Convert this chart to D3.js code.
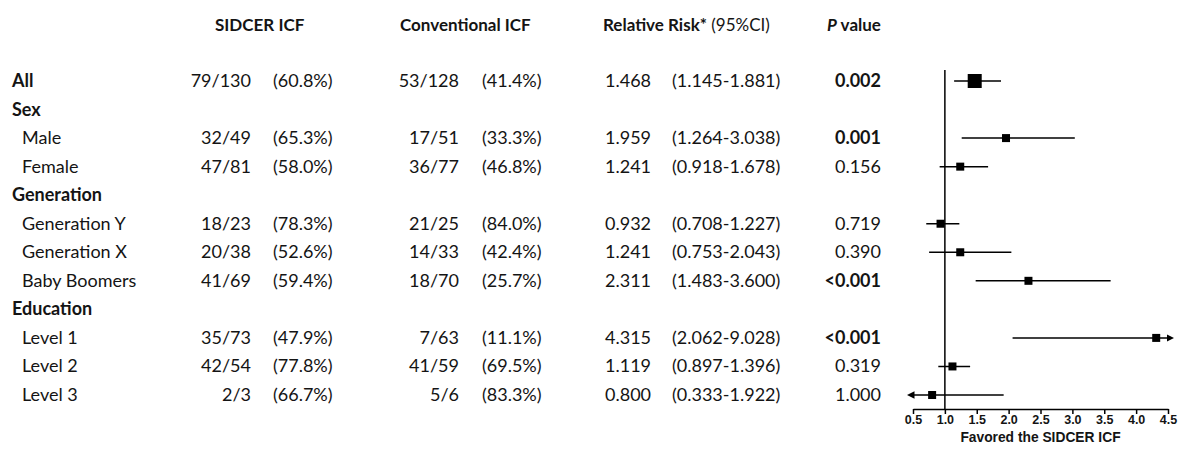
<!DOCTYPE html>
<html>
<head>
<meta charset="utf-8">
<script src="https://cdnjs.cloudflare.com/ajax/libs/d3/7.8.5/d3.min.js"></script>
<style>
    body { margin: 0; background: #fff; }
    svg text { font-family: Lato, "Open Sans", sans-serif; fill: #141414; }
    .axis text { font-family: "Liberation Sans", Arial, sans-serif; font-weight: bold; font-size: 12.5px; }
</style>
</head>
<body>
<svg id="chart" width="1181" height="450"></svg>
<script>
    const labels = ["All", "Sex", "Male", "Female", "Generation", "Generation Y", "Generation X", "Baby Boomers",
                    "Education", "Level 1", "Level 2", "Level 3"];
    const isGroup = [true, true, false, false, true, false, false, false, true, false, false, false];
    const sidcerCount = ["79/130", "", "32/49", "47/81", "", "18/23", "20/38", "41/69", "", "35/73", "42/54", "2/3"];
    const sidcerPct = ["(60.8%)", "", "(65.3%)", "(58.0%)", "", "(78.3%)", "(52.6%)", "(59.4%)", "", "(47.9%)", "(77.8%)", "(66.7%)"];
    const convCount = ["53/128", "", "17/51", "36/77", "", "21/25", "14/33", "18/70", "", "7/63", "41/59", "5/6"];
    const convPct = ["(41.4%)", "", "(33.3%)", "(46.8%)", "", "(84.0%)", "(42.4%)", "(25.7%)", "", "(11.1%)", "(69.5%)", "(83.3%)"];
    const rr = [1.468, null, 1.959, 1.241, null, 0.932, 1.241, 2.311, null, 4.315, 1.119, 0.800];
    const rrLow = [1.145, null, 1.264, 0.918, null, 0.708, 0.753, 1.483, null, 2.062, 0.897, 0.333];
    const rrHigh = [1.881, null, 3.038, 1.678, null, 1.227, 2.043, 3.600, null, 9.028, 1.396, 1.922];
    const pValues = ["0.002", "", "0.001", "0.156", "", "0.719", "0.390", "<0.001", "", "<0.001", "0.319", "1.000"];
    const pSignificant = [true, false, true, false, false, false, false, true, false, true, false, false];
    const axisTicks = [0.5, 1.0, 1.5, 2.0, 2.5, 3.0, 3.5, 4.0, 4.5];

    const svg = d3.select('#chart');
    const fmt = d3.format('.3f');

    const y = d3.scalePoint().domain(d3.range(labels.length)).range([81, 395]);
    const x = d3.scaleLinear().domain([0.5, 4.5]).range([913, 1168]);

    // column headers
    const head = svg.append('g').attr('font-size', 17).attr('font-weight', 'bold');
    head.append('text').attr('x', 215).attr('y', 31).text('SIDCER ICF');
    head.append('text').attr('x', 400).attr('y', 31).text('Conventional ICF');
    const rrHead = head.append('text').attr('x', 603).attr('y', 31);
    rrHead.append('tspan').text('Relative Risk*');
    rrHead.append('tspan').attr('font-weight', 'normal').text(' (95%CI)');
    const pHead = head.append('text').attr('x', 827).attr('y', 31);
    pHead.append('tspan').attr('font-style', 'italic').text('P');
    pHead.append('tspan').text(' value');

    // table rows
    const rows = svg.append('g').attr('font-size', 18)
        .selectAll('g').data(labels).join('g')
        .attr('transform', (d, i) => `translate(0,${y(i) + 6})`);

    rows.append('text')
        .attr('x', (d, i) => isGroup[i] ? 12 : 22)
        .attr('font-weight', (d, i) => isGroup[i] ? 'bold' : 'normal')
        .text(d => d);
    rows.append('text').attr('x', 251).attr('text-anchor', 'end').text((d, i) => sidcerCount[i]);
    rows.append('text').attr('x', 273).text((d, i) => sidcerPct[i]);
    rows.append('text').attr('x', 459).attr('text-anchor', 'end').text((d, i) => convCount[i]);
    rows.append('text').attr('x', 482).text((d, i) => convPct[i]);
    rows.append('text').attr('x', 605).text((d, i) => rr[i] == null ? '' : fmt(rr[i]));
    rows.append('text').attr('x', 672)
        .text((d, i) => rr[i] == null ? '' : `(${fmt(rrLow[i])}-${fmt(rrHigh[i])})`);
    rows.append('text').attr('x', 881).attr('text-anchor', 'end')
        .attr('font-weight', (d, i) => pSignificant[i] ? 'bold' : 'normal')
        .text((d, i) => pValues[i]);

    // forest plot
    svg.append('defs').append('marker')
        .attr('id', 'arrow').attr('viewBox', '0 0 10 10')
        .attr('refX', 2).attr('refY', 5)
        .attr('markerWidth', 5).attr('markerHeight', 5)
        .attr('orient', 'auto-start-reverse')
        .append('path').attr('d', 'M0,0 L10,5 L0,10 z').attr('fill', '#000');

    const axisY = 409;
    svg.append('line')
        .attr('x1', x(1)).attr('x2', x(1))
        .attr('y1', 70).attr('y2', axisY)
        .attr('stroke', '#000').attr('stroke-width', 1.5);

    const plotted = d3.range(labels.length).filter(i => rr[i] != null);
    const [dMin, dMax] = x.domain();

    svg.append('g').selectAll('line').data(plotted).join('line')
        .attr('x1', i => x(Math.max(rrLow[i], dMin)))
        .attr('x2', i => x(Math.min(rrHigh[i], dMax)))
        .attr('y1', i => y(i)).attr('y2', i => y(i))
        .attr('stroke', '#000').attr('stroke-width', 1.5)
        .attr('marker-start', i => rrLow[i] < dMin ? 'url(#arrow)' : null)
        .attr('marker-end', i => rrHigh[i] > dMax ? 'url(#arrow)' : null);

    svg.append('g').selectAll('rect').data(plotted).join('rect')
        .each(function (i) {
            const s = i === 0 ? 14 : 8;
            d3.select(this)
                .attr('x', x(rr[i]) - s / 2).attr('y', y(i) - s / 2)
                .attr('width', s).attr('height', s);
        })
        .attr('fill', '#000');

    const axis = d3.axisBottom(x).tickValues(axisTicks).tickFormat(d3.format('.1f')).tickSize(5).tickSizeOuter(0);
    const ax = svg.append('g').attr('class', 'axis')
        .attr('transform', `translate(0,${axisY})`)
        .call(axis);
    ax.select('.domain').attr('stroke-width', 1.5);
    ax.selectAll('.tick line').attr('stroke-width', 1.5);
    ax.selectAll('.tick text').attr('dy', '0.55em').attr('fill', '#1a1a1a');

    svg.append('text')
        .attr('x', x(2.5)).attr('y', 442)
        .attr('text-anchor', 'middle')
        .attr('font-size', 13.8).attr('font-weight', 'bold')
        .style('font-family', '"Liberation Sans", Arial, sans-serif')
        .text('Favored the SIDCER ICF');
</script>
</body>
</html>
